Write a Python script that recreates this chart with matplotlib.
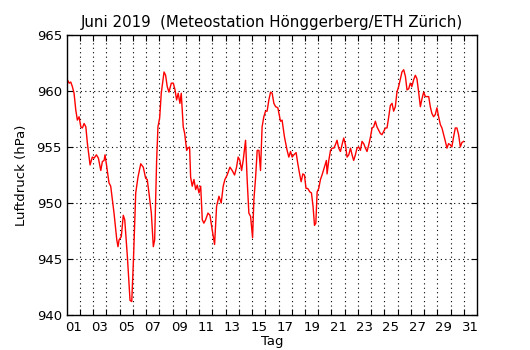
import numpy as np
import matplotlib
matplotlib.use("Agg")
import matplotlib.pyplot as plt

# Tag (Tagesmitte = ganze Zahl), Luftdruck in hPa
days = [
    0.50, 0.68, 0.80, 0.92, 1.05, 1.18, 1.30, 1.43, 1.56, 1.68, 1.81, 1.94,
    2.06, 2.26, 2.43, 2.56, 2.74, 2.89, 3.07, 3.19, 3.32, 3.39, 3.49, 3.69,
    3.82, 4.07, 4.28, 4.37, 4.45, 4.62, 4.77, 4.88, 5.08, 5.28, 5.41, 5.54,
    5.71, 5.88, 6.09, 6.28, 6.46, 6.58, 6.71, 6.89, 7.04, 7.14, 7.29, 7.39,
    7.52, 7.64, 7.85, 7.97, 8.09, 8.22, 8.40, 8.55, 8.68, 8.80, 8.92, 9.05,
    9.15, 9.30, 9.41, 9.56, 9.66, 9.78, 9.86, 9.98, 10.11, 10.24, 10.36, 10.49,
    10.62, 10.74, 10.86, 10.99, 11.17, 11.32, 11.49, 11.67, 11.82, 12.00, 12.17, 12.32,
    12.45, 12.62, 12.83, 13.00, 13.18, 13.33, 13.45, 13.58, 13.71, 13.83, 14.01, 14.13,
    14.26, 14.39, 14.54, 14.64, 14.77, 14.89, 15.02, 15.14, 15.26, 15.39, 15.52, 15.64,
    15.77, 15.90, 16.02, 16.15, 16.28, 16.45, 16.65, 16.77, 16.95, 17.15, 17.28, 17.41,
    17.53, 17.66, 17.83, 17.96, 18.11, 18.21, 18.34, 18.46, 18.58, 18.71, 18.86, 18.99,
    19.11, 19.22, 19.32, 19.42, 19.54, 19.67, 19.79, 19.97, 20.12, 20.17, 20.30, 20.43,
    20.55, 20.68, 20.80, 20.92, 21.05, 21.18, 21.30, 21.43, 21.56, 21.68, 21.81, 21.94,
    22.06, 22.18, 22.31, 22.43, 22.56, 22.69, 22.81, 22.94, 23.07, 23.19, 23.32, 23.45,
    23.57, 23.69, 23.82, 23.94, 24.07, 24.20, 24.32, 24.45, 24.58, 24.70, 24.83, 24.95,
    25.08, 25.20, 25.33, 25.45, 25.58, 25.71, 25.83, 25.96, 26.09, 26.21, 26.34, 26.46,
    26.58, 26.71, 26.84, 26.96, 27.09, 27.22, 27.34, 27.47, 27.60, 27.72, 27.85, 27.97,
    28.09, 28.22, 28.35, 28.47, 28.60, 28.73, 28.85, 28.98, 29.11, 29.23, 29.35, 29.48,
    29.60, 29.73, 29.86, 29.98, 30.11, 30.24, 30.36, 30.49,
]
pressure = [
    961.1, 960.7, 960.8, 960.4, 959.8, 958.3, 957.4, 957.7, 956.8, 956.7, 957.1, 956.8,
    955.3, 953.4, 954.1, 954.0, 954.3, 954.0, 952.9, 953.7, 953.8, 954.3, 953.5, 951.8,
    951.5, 949.1, 946.7, 946.1, 946.7, 947.0, 948.9, 948.5, 945.2, 941.3, 941.2, 945.0,
    950.9, 952.3, 953.5, 953.2, 952.2, 952.1, 950.9, 949.1, 946.1, 946.7, 953.8, 956.8,
    957.6, 959.8, 961.7, 961.4, 960.4, 959.9, 960.7, 960.7, 960.1, 959.2, 959.8, 958.9,
    959.8, 956.8, 956.2, 954.7, 954.9, 955.0, 952.3, 951.5, 952.1, 951.2, 951.6, 950.9,
    951.5, 948.5, 948.2, 948.5, 949.1, 948.9, 947.6, 946.3, 949.7, 950.6, 950.0, 951.5,
    952.1, 952.5, 953.2, 952.9, 952.5, 953.2, 954.1, 953.8, 952.9, 953.8, 955.6, 952.1,
    949.1, 948.8, 946.9, 950.3, 952.3, 954.7, 954.7, 952.9, 956.8, 957.7, 958.2, 958.2,
    959.2, 959.9, 959.8, 958.9, 958.6, 958.5, 957.3, 957.4, 955.9, 954.7, 954.1, 954.6,
    954.1, 954.3, 954.5, 953.5, 952.5, 951.9, 952.6, 952.5, 951.3, 951.3, 951.0, 950.9,
    949.7, 948.0, 948.2, 951.0, 951.3, 952.1, 952.5, 953.2, 953.8, 952.6, 953.8, 954.7,
    954.9, 954.9, 955.2, 955.6, 954.9, 954.6, 955.2, 955.8, 955.2, 954.1, 954.3, 954.9,
    954.3, 953.8, 954.3, 954.9, 955.0, 954.7, 955.5, 955.3, 954.9, 954.6, 955.2, 955.9,
    956.7, 956.8, 957.3, 956.8, 956.5, 956.2, 956.1, 956.4, 956.7, 956.7, 957.7, 958.7,
    958.9, 958.2, 958.6, 959.9, 960.4, 961.1, 961.7, 961.9, 961.3, 960.1, 960.2, 960.7,
    960.4, 961.0, 961.4, 961.1, 959.9, 958.6, 959.3, 959.9, 959.5, 959.5, 959.5, 958.6,
    958.0, 957.7, 957.9, 958.5, 957.7, 957.0, 956.7, 956.1, 955.5, 954.9, 955.3, 955.2,
    955.0, 955.9, 956.7, 956.7, 956.1, 955.0, 955.4, 955.5,
]

label_days = list(range(1, 32, 2))
tick_labels = ["%02d" % d for d in label_days]

fig = plt.figure(figsize=(5.3, 3.5), dpi=100)
ax = fig.add_axes([0.126, 0.1, 0.774, 0.8])

ax.plot(days, pressure, color="red", linewidth=1.0)

ax.set_xlim(0.5, 31.5)
ax.set_ylim(940, 965)

# Tagesgrenzen als Gitter, Beschriftung in Tagesmitte
ax.set_xticks(np.arange(1.5, 31, 1))
ax.set_xticklabels([])
ax.set_xticks(label_days, minor=True)
ax.set_xticklabels(tick_labels, minor=True)
ax.set_yticks(np.arange(940, 966, 5))

ax.tick_params(which="major", direction="in", top=True, right=True,
               length=4, width=0.8, labelsize=9.5)
ax.tick_params(which="minor", length=0, labelsize=9.5, pad=4)
ax.grid(True, which="major", color="black", linestyle=(0, (1, 3)), linewidth=0.8)

for s in ax.spines.values():
    s.set_linewidth(1.0)

ax.set_xlabel("Tag", fontsize=9.5, labelpad=1)
ax.set_ylabel("Luftdruck (hPa)", fontsize=9.5, labelpad=6)
ax.set_title("Juni 2019  (Meteostation Hönggerberg/ETH Zürich)", fontsize=10.8)

fig.savefig("out.png", dpi=100, facecolor="white")
